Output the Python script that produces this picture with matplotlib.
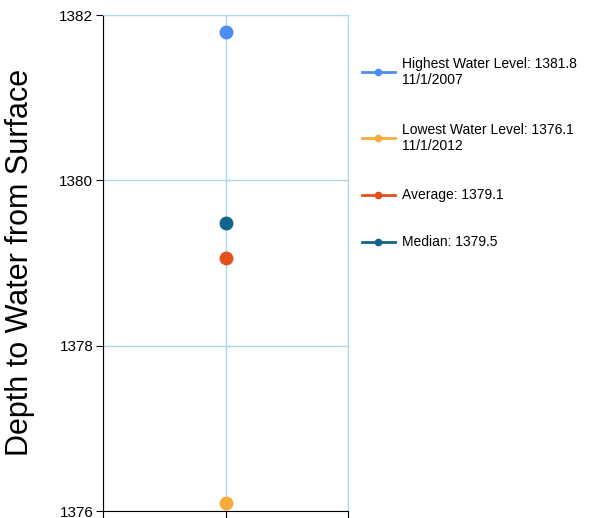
import matplotlib
matplotlib.use("Agg")
import matplotlib.pyplot as plt
from matplotlib.lines import Line2D

plt.rcParams['font.family'] = ['Liberation Sans', 'DejaVu Sans']

# values
labels = ['Highest Water Level: 1381.8\n11/1/2007',
          'Lowest Water Level: 1376.1\n11/1/2012',
          'Average: 1379.1',
          'Median: 1379.5']
values = [1381.8, 1376.1, 1379.06, 1379.48]
colors = ['#4c8df0', '#f6ac3a', '#e2501e', '#13648c']
yticks = [1376, 1378, 1380, 1382]

fig = plt.figure(figsize=(6.08, 5.18), dpi=100)
ax = fig.add_axes([103/608, 1-511/518, 245/608, 496/518])

grid = '#add8e6'
for v, c in zip(values, colors):
    ax.plot([1], [v], 'o', color=c, markersize=9, zorder=3)

ax.set_xlim(0, 2)
ax.set_ylim(1376, 1382)
ax.set_xticks([0, 1, 2])
ax.set_xticklabels(['', '', ''])
ax.set_yticks(yticks)
ax.tick_params(axis='y', labelsize=11, length=5, color='black', pad=2)
ax.tick_params(axis='x', length=5, color='black')
ax.grid(True, color=grid, linewidth=1)
ax.set_axisbelow(True)
ax.spines['top'].set_color(grid)
ax.spines['right'].set_color(grid)
ax.spines['left'].set_color('black')
ax.spines['bottom'].set_color('black')

fig.text(20/608, 1-262/518, 'Depth to Water from Surface', rotation=90,
         fontsize=22, ha='center', va='center')

# legend drawn by hand to match spacing
y = 72
for i, (lab, c) in enumerate(zip(labels, colors)):
    nlines = lab.count('\n') + 1
    fy = 1 - y/518
    fig.add_artist(Line2D([362/608, 395/608], [fy, fy], color=c, linewidth=2))
    fig.add_artist(Line2D([378/608], [fy], marker='o', color=c, markersize=4.5))
    fig.text(402/608, fy, lab, fontsize=10, va='center', ha='left', linespacing=1.2)
    if i + 1 < len(labels):
        nnext = labels[i + 1].count('\n') + 1
        y += 28 + 9.5 * (nlines + nnext)

fig.savefig('out.png', dpi=100)
